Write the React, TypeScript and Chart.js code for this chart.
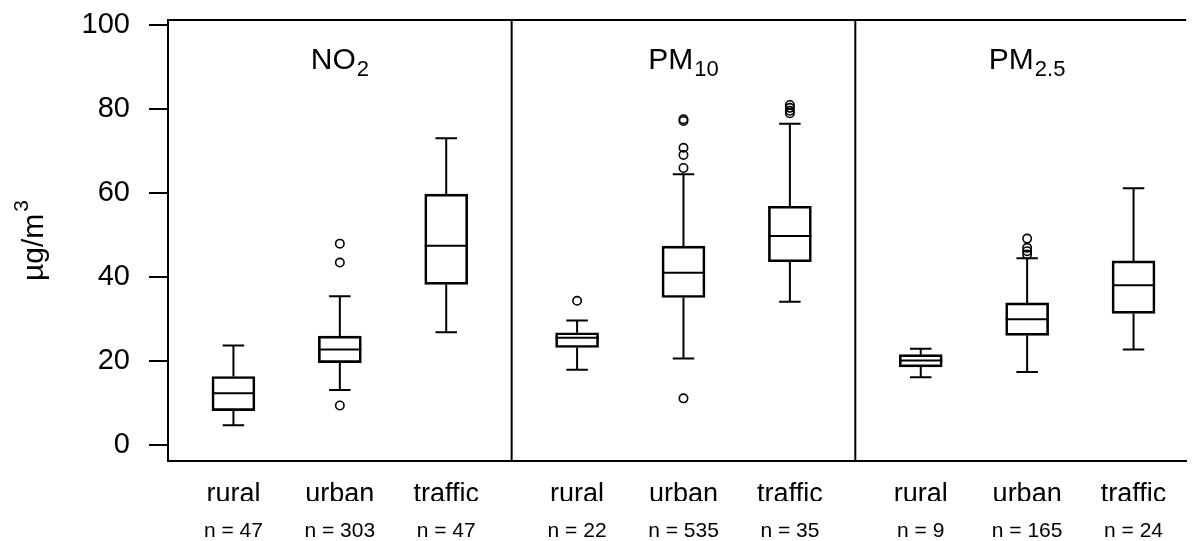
import React, { useEffect, useRef } from "react";
import { Chart, registerables } from "chart.js";

Chart.register(...registerables);

const FONT = '"Liberation Sans", Arial, Helvetica, sans-serif';

// ---- data ----
const pollutantNames = ["NO", "PM", "PM"];
const pollutantSubs = ["2", "10", "2.5"];
const siteTypes = ["rural", "urban", "traffic"];
const sampleSizes = [47, 303, 47, 22, 535, 35, 9, 165, 24];
const unitMain = "µg/m";
const unitSup = "3";

const whiskerLow = [4.8, 13.2, 26.9, 18.0, 20.7, 34.2, 16.2, 17.5, 22.8];
const quartile1 = [8.3, 19.7, 38.3, 23.3, 35.2, 43.7, 18.7, 26.2, 31.4];
const medians = [12.4, 22.8, 47.5, 25.6, 41.1, 49.8, 20.2, 30.0, 38.1];
const quartile3 = [16.4, 26.0, 59.8, 26.8, 47.4, 56.9, 21.6, 33.9, 43.9];
const whiskerHigh = [23.8, 35.5, 73.1, 29.7, 64.5, 76.5, 23.0, 44.5, 61.2];
const outliers: number[][] = [
  [],
  [9.5, 43.5, 48.0],
  [],
  [34.4],
  [11.2, 66.0, 69.1, 70.8, 77.2, 77.6],
  [79.0, 79.6, 80.3, 81.0],
  [],
  [45.4, 46.2, 47.0, 49.2],
  [],
];

const yTicks = [0, 20, 40, 60, 80, 100];
const Y_MIN = -3.7;
const Y_MAX = 101.2;
const PANEL_W = 3.23; // axis units per pollutant panel
const X_MAX = 9.57;

const slot = (k: number) => Math.floor(k / 3) * PANEL_W + PANEL_W / 2 + ((k % 3) - 1);
const positions = sampleSizes.map((_, k) => slot(k));

const boxPlugin = {
  id: "boxDecor",
  afterDatasetsDraw(chart: any) {
    const { ctx } = chart;
    const x = chart.scales.x;
    const y = chart.scales.y;
    const meta = chart.getDatasetMeta(0);
    ctx.save();
    ctx.strokeStyle = "#000";
    ctx.lineWidth = 2;
    ctx.lineCap = "butt";
    meta.data.forEach((bar: any, k: number) => {
      const px = x.getPixelForValue(positions[k]);
      const w = bar.width;
      const cap = w / 2;
      const yMed = y.getPixelForValue(medians[k]);
      const yQ1 = y.getPixelForValue(quartile1[k]);
      const yQ3 = y.getPixelForValue(quartile3[k]);
      const yLo = y.getPixelForValue(whiskerLow[k]);
      const yHi = y.getPixelForValue(whiskerHigh[k]);
      ctx.beginPath();
      ctx.moveTo(px - w / 2, yMed);
      ctx.lineTo(px + w / 2, yMed);
      ctx.moveTo(px, yQ3);
      ctx.lineTo(px, yHi);
      ctx.moveTo(px, yQ1);
      ctx.lineTo(px, yLo);
      ctx.moveTo(px - cap / 2, yHi);
      ctx.lineTo(px + cap / 2, yHi);
      ctx.moveTo(px - cap / 2, yLo);
      ctx.lineTo(px + cap / 2, yLo);
      ctx.stroke();
    });
    ctx.restore();
  },
  afterDraw(chart: any) {
    const { ctx, chartArea } = chart;
    const x = chart.scales.x;
    ctx.save();
    ctx.strokeStyle = "#000";
    ctx.lineWidth = 2;
    ctx.beginPath();
    ctx.moveTo(chartArea.left - 1, chartArea.top);
    ctx.lineTo(chartArea.right, chartArea.top);
    for (let p = 1; p < 3; p++) {
      const dx = x.getPixelForValue(p * PANEL_W);
      ctx.moveTo(dx, chartArea.top);
      ctx.lineTo(dx, chartArea.bottom);
    }
    ctx.stroke();

    // panel titles with subscripts
    ctx.fillStyle = "#000";
    ctx.textBaseline = "alphabetic";
    ctx.textAlign = "left";
    const mainFont = `30px ${FONT}`;
    const subFont = `22px ${FONT}`;
    for (let p = 0; p < 3; p++) {
      const cx = x.getPixelForValue(p * PANEL_W + PANEL_W / 2);
      ctx.font = mainFont;
      const mw = ctx.measureText(pollutantNames[p]).width;
      ctx.font = subFont;
      const sw = ctx.measureText(pollutantSubs[p]).width;
      const start = cx - (mw + sw + 1) / 2;
      const base = chartArea.top + 49;
      ctx.font = mainFont;
      ctx.fillText(pollutantNames[p], start, base);
      ctx.font = subFont;
      ctx.fillText(pollutantSubs[p], start + mw + 1, base + 7);
    }

    // y-axis unit label with superscript
    const cy = (chartArea.top + chartArea.bottom) / 2;
    ctx.translate(43, cy);
    ctx.rotate(-Math.PI / 2);
    const uMain = `30px ${FONT}`;
    const uSup = `21px ${FONT}`;
    ctx.font = uMain;
    const uw = ctx.measureText(unitMain).width;
    ctx.font = uSup;
    const usw = ctx.measureText(unitSup).width;
    const ustart = -(uw + usw + 2) / 2;
    ctx.font = uMain;
    ctx.fillText(unitMain, ustart, 0);
    ctx.font = uSup;
    ctx.fillText(unitSup, ustart + uw + 2, -15);
    ctx.restore();
  },
};

export default function App() {
  const canvasRef = useRef<HTMLCanvasElement | null>(null);

  useEffect(() => {
    const canvas = canvasRef.current;
    if (!canvas) return;
    Chart.defaults.font.family = FONT;
    Chart.defaults.color = "#000";

    const boxData = quartile1.map((q, k) => ({ x: positions[k], y: [q, quartile3[k]] }));
    const outlierData: { x: number; y: number }[] = [];
    outliers.forEach((list, k) => list.forEach((v) => outlierData.push({ x: positions[k], y: v })));

    const noPad = (s: any) => {
      s.paddingTop = 0;
      s.paddingBottom = 0;
      s.paddingLeft = 0;
      s.paddingRight = 0;
    };

    const chart = new Chart(canvas, {
      type: "bar",
      data: {
        datasets: [
          {
            type: "bar",
            label: "IQR",
            data: boxData as any,
            backgroundColor: "rgba(255,255,255,0)",
            borderColor: "#000",
            borderWidth: 2,
            borderSkipped: false,
            barThickness: 43,
          } as any,
          {
            type: "scatter",
            label: "outliers",
            data: outlierData,
            pointStyle: "circle",
            pointRadius: 4.2,
            pointBorderWidth: 1.6,
            pointBackgroundColor: "rgba(255,255,255,0)",
            pointBorderColor: "#000",
            showLine: false,
          } as any,
        ],
      },
      options: {
        responsive: false,
        animation: false,
        events: [],
        layout: { padding: { top: 20, left: 0, right: 0, bottom: 0 } },
        plugins: { legend: { display: false }, tooltip: { enabled: false } },
        scales: {
          x: {
            type: "linear",
            position: "bottom",
            min: 0,
            max: X_MAX,
            offset: false,
            grid: { display: false, drawTicks: false },
            border: { display: true, color: "#000", width: 2 },
            afterBuildTicks: (s: any) => {
              s.ticks = positions.map((v) => ({ value: v }));
            },
            afterFit: (s: any) => {
              s.height = 40;
              noPad(s);
            },
            ticks: {
              autoSkip: false,
              maxRotation: 0,
              minRotation: 0,
              padding: 17,
              font: { size: 27, family: FONT },
              color: "#000",
              callback: (_v: any, i: number) => siteTypes[i % 3],
            },
          },
          x2: {
            type: "linear",
            axis: "x",
            position: "bottom",
            min: 0,
            max: X_MAX,
            offset: false,
            grid: { display: false, drawTicks: false },
            border: { display: false },
            afterBuildTicks: (s: any) => {
              s.ticks = positions.map((v) => ({ value: v }));
            },
            afterFit: (s: any) => {
              s.height = 40;
              noPad(s);
            },
            ticks: {
              autoSkip: false,
              maxRotation: 0,
              minRotation: 0,
              padding: 18,
              font: { size: 21, family: FONT },
              color: "#000",
              callback: (_v: any, i: number) => `n = ${sampleSizes[i]}`,
            },
          },
          y: {
            type: "linear",
            min: Y_MIN,
            max: Y_MAX,
            afterBuildTicks: (s: any) => {
              s.ticks = yTicks.map((v) => ({ value: v }));
            },
            afterFit: (s: any) => {
              s.width = 168;
              noPad(s);
            },
            grid: {
              display: true,
              drawOnChartArea: false,
              drawTicks: true,
              tickLength: 19,
              color: "#000",
              lineWidth: 2,
            },
            border: { display: true, color: "#000", width: 2 },
            ticks: {
              padding: 19,
              font: { size: 29, family: FONT },
              color: "#000",
            },
            title: { display: false },
          },
        },
      } as any,
      plugins: [boxPlugin],
    });
    return () => chart.destroy();
  }, []);

  return (
    <div style={{ position: "absolute", left: 0, top: 0, width: 1192, height: 541, background: "#fff" }}>
      <canvas ref={canvasRef} width={1192} height={541} style={{ display: "block", width: 1192, height: 541 }} />
    </div>
  );
}
